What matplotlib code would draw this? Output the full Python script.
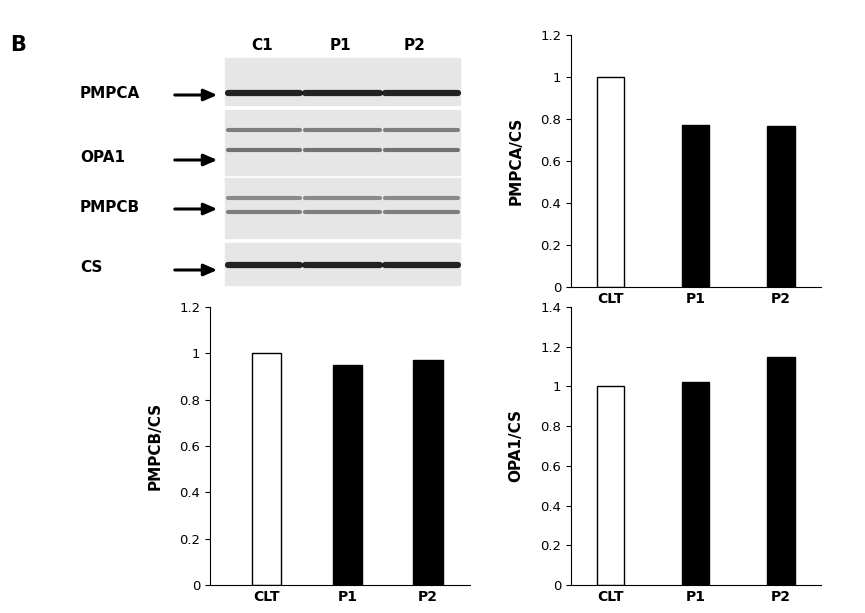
import matplotlib
matplotlib.use("Agg")
import matplotlib.pyplot as plt
from matplotlib.patches import Rectangle

categories = ["CLT", "P1", "P2"]
pmpca = [1.0, 0.77, 0.765]
pmpcb = [1.0, 0.95, 0.97]
opa1 = [1.0, 1.02, 1.15]
colors = ["white", "black", "black"]

blot_labels = ["PMPCA", "OPA1", "PMPCB", "CS"]
lane_labels = ["C1", "P1", "P2"]

W, H = 865, 613
fig = plt.figure(figsize=(W/100, H/100), dpi=100)

# overlay axes in pixel coordinates for the blot illustration
ov = fig.add_axes([0, 0, 1, 1])
ov.set_xlim(0, W); ov.set_ylim(H, 0); ov.axis("off")
ov.text(10, 45, "B", fontsize=15, fontweight="bold", va="center")
panels = [(58, 105), (110, 175), (178, 238), (243, 285)]
bands = [[(93, 4.5, 0.85)], [(130, 3, 0.45), (150, 3, 0.5)], [(198, 3, 0.4), (212, 3, 0.45)], [(265, 4.5, 0.85)]]
label_y = [93, 158, 207, 268]
lanes = [(228, 300), (305, 380), (385, 458)]
for (y0, y1), bl in zip(panels, bands):
    ov.add_patch(Rectangle((225, y0), 235, y1 - y0, color="#e6e6e6", zorder=1))
    for (yc, lw, a) in bl:
        for (x0, x1) in lanes:
            ov.plot([x0, x1], [yc, yc], color="black", alpha=a, lw=lw, solid_capstyle="round", zorder=2)
for lab, y in zip(blot_labels, label_y):
    ov.text(80, y, lab, fontsize=11, fontweight="bold", va="center")
    ov.annotate("", xy=(220, y + 2), xytext=(172, y + 2),
                arrowprops=dict(arrowstyle="-|>,head_width=0.35,head_length=0.8", color="black", lw=2.2))
for lab, x in zip(lane_labels, [262, 340, 415]):
    ov.text(x, 46, lab, fontsize=11, fontweight="bold", ha="center", va="center")

def bar_ax(rect, vals, ylabel, ymax, xlim, width):
    ax = fig.add_axes(rect)
    ax.bar(range(3), vals, width=width, color=colors, edgecolor="black", linewidth=1)
    ax.set_ylim(0, ymax)
    ax.set_xlim(*xlim)
    ax.set_yticks([round(0.2*i, 1) for i in range(int(round(ymax/0.2)) + 1)])
    ax.set_yticklabels([f"{0.2*i:g}" for i in range(int(round(ymax/0.2)) + 1)], fontsize=9.5)
    ax.set_xticks(range(3))
    ax.set_xticklabels(categories, fontsize=10, fontweight="bold")
    ax.tick_params(axis="x", length=0)
    ax.spines["top"].set_visible(False); ax.spines["right"].set_visible(False)
    ax.set_ylabel(ylabel, fontsize=11, fontweight="bold", labelpad=12)
    ax.patch.set_alpha(0)
    return ax

bar_ax([571/W, 1-287/H, 250/W, 252/H], pmpca, "PMPCA/CS", 1.2, (-0.46, 2.47), 0.32)
bar_ax([210/W, 1-585/H, 260/W, 278/H], pmpcb, "PMPCB/CS", 1.2, (-0.7, 2.52), 0.36)
bar_ax([571/W, 1-585/H, 250/W, 278/H], opa1, "OPA1/CS", 1.4, (-0.46, 2.47), 0.32)

fig.savefig("out.png", dpi=100)
